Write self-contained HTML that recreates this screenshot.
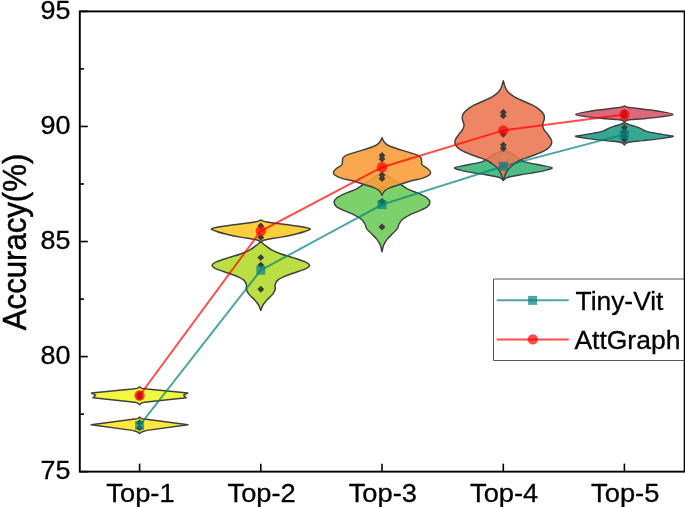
<!DOCTYPE html><html><head><meta charset="utf-8"><title>Accuracy chart</title><style>html,body{margin:0;padding:0;background:#fff}svg{display:block}</style></head><body><svg width="685" height="507" viewBox="0 0 685 507">
<rect width="685" height="507" fill="#fff"/>
<path d="M139.60 417.10L137.70 418.60L134.70 419.00L91.20 424.70L132.30 430.40L137.70 432.00L139.60 433.60L141.50 432.00L146.90 430.40L188.00 424.70L144.50 419.00L141.50 418.60L139.60 417.10Z" fill="#fce93c" fill-opacity="1.00" stroke="#3f3f3f" stroke-width="1.45" stroke-linejoin="round"/>
<path d="M139.60 419.35L143.05 422.80L139.60 426.25L136.15 422.80Z" fill="#3c3c3c" fill-opacity="1"/>
<path d="M139.60 424.45L143.05 427.90L139.60 431.35L136.15 427.90Z" fill="#3c3c3c" fill-opacity="1"/>
<path d="M139.60 386.90L137.20 388.40L132.30 389.00L91.40 393.00L95.60 395.20L93.00 397.80L134.70 402.30L137.40 402.90L139.60 404.80L141.80 402.90L144.50 402.30L186.20 397.80L183.60 395.20L187.80 393.00L146.90 389.00L142.00 388.40L139.60 386.90Z" fill="#f2f83d" fill-opacity="1.00" stroke="#3f3f3f" stroke-width="1.45" stroke-linejoin="round"/>
<path d="M139.60 390.75L143.05 394.20L139.60 397.65L136.15 394.20Z" fill="#3c3c3c" fill-opacity="1"/>
<path d="M139.60 393.55L143.05 397.00L139.60 400.45L136.15 397.00Z" fill="#3c3c3c" fill-opacity="1"/>
<path d="M260.80 241.60C259.98 242.28 257.70 244.32 255.90 245.70C254.10 247.08 252.57 248.52 250.00 249.90C247.43 251.28 244.05 252.72 240.50 254.00C236.95 255.28 232.65 256.32 228.70 257.60C224.75 258.88 219.57 260.40 216.80 261.70C214.03 263.00 212.10 264.15 212.10 265.40C212.10 266.65 214.03 267.88 216.80 269.20C219.57 270.52 225.15 272.02 228.70 273.30C232.25 274.58 235.53 275.72 238.10 276.90C240.67 278.08 242.72 279.12 244.10 280.40C245.48 281.68 246.02 283.12 246.40 284.60C246.78 286.08 246.00 287.72 246.40 289.30C246.80 290.88 247.42 292.32 248.80 294.10C250.18 295.88 253.03 298.13 254.70 300.00C256.37 301.87 257.78 303.53 258.80 305.30C259.82 307.07 260.47 309.72 260.80 310.60C261.13 309.72 261.78 307.07 262.80 305.30C263.82 303.53 265.23 301.87 266.90 300.00C268.57 298.13 271.42 295.88 272.80 294.10C274.18 292.32 274.80 290.88 275.20 289.30C275.60 287.72 274.82 286.08 275.20 284.60C275.58 283.12 276.12 281.68 277.50 280.40C278.88 279.12 280.93 278.08 283.50 276.90C286.07 275.72 289.35 274.58 292.90 273.30C296.45 272.02 302.03 270.52 304.80 269.20C307.57 267.88 309.50 266.65 309.50 265.40C309.50 264.15 307.57 263.00 304.80 261.70C302.03 260.40 296.85 258.88 292.90 257.60C288.95 256.32 284.65 255.28 281.10 254.00C277.55 252.72 274.17 251.28 271.60 249.90C269.03 248.52 267.50 247.08 265.70 245.70C263.90 244.32 261.62 242.28 260.80 241.60Z" fill="#bbdf42" fill-opacity="1.00" stroke="#3f3f3f" stroke-width="1.45" stroke-linejoin="round"/>
<path d="M260.80 254.15L264.25 257.60L260.80 261.05L257.35 257.60Z" fill="#3c3c3c" fill-opacity="1"/>
<path d="M260.80 261.65L264.25 265.10L260.80 268.55L257.35 265.10Z" fill="#3c3c3c" fill-opacity="1"/>
<path d="M260.80 285.85L264.25 289.30L260.80 292.75L257.35 289.30Z" fill="#3c3c3c" fill-opacity="1"/>
<path d="M260.80 220.00C260.48 220.15 259.72 220.62 258.90 220.90C258.08 221.18 257.98 221.32 255.90 221.70C253.82 222.08 250.93 222.57 246.40 223.20C241.87 223.83 234.45 224.60 228.70 225.50C222.95 226.40 213.88 227.60 211.90 228.60C209.92 229.60 214.00 230.48 216.80 231.50C219.60 232.52 224.75 233.77 228.70 234.70C232.65 235.63 236.57 236.38 240.50 237.10C244.43 237.82 249.53 238.52 252.30 239.00C255.07 239.48 255.68 239.55 257.10 240.00C258.52 240.45 260.18 241.42 260.80 241.70C261.42 241.42 263.08 240.45 264.50 240.00C265.92 239.55 266.53 239.48 269.30 239.00C272.07 238.52 277.17 237.82 281.10 237.10C285.03 236.38 288.95 235.63 292.90 234.70C296.85 233.77 302.00 232.52 304.80 231.50C307.60 230.48 311.68 229.60 309.70 228.60C307.72 227.60 298.65 226.40 292.90 225.50C287.15 224.60 279.73 223.83 275.20 223.20C270.67 222.57 267.78 222.08 265.70 221.70C263.62 221.32 263.52 221.18 262.70 220.90C261.88 220.62 261.12 220.15 260.80 220.00Z" fill="#fbc923" fill-opacity="0.89" stroke="#3f3f3f" stroke-width="1.45" stroke-linejoin="round"/>
<path d="M260.80 222.55L264.25 226.00L260.80 229.45L257.35 226.00Z" fill="#3c3c3c" fill-opacity="1"/>
<path d="M260.80 233.95L264.25 237.40L260.80 240.85L257.35 237.40Z" fill="#3c3c3c" fill-opacity="1"/>
<path d="M382.00 173.00C381.63 173.20 380.63 173.77 379.80 174.20C378.97 174.63 378.38 174.80 377.00 175.60C375.62 176.40 373.47 177.75 371.50 179.00C369.53 180.25 367.68 181.45 365.20 183.10C362.72 184.75 360.00 187.13 356.60 188.90C353.20 190.67 348.05 192.22 344.80 193.70C341.55 195.18 338.88 196.42 337.10 197.80C335.32 199.18 334.20 200.53 334.10 202.00C334.00 203.47 334.72 205.12 336.50 206.60C338.28 208.08 341.85 209.53 344.80 210.90C347.75 212.27 351.45 213.40 354.20 214.80C356.95 216.20 359.52 217.77 361.30 219.30C363.08 220.83 364.02 222.45 364.90 224.00C365.78 225.55 365.62 227.08 366.60 228.60C367.58 230.12 369.12 231.35 370.80 233.10C372.48 234.85 375.12 237.12 376.70 239.10C378.28 241.08 379.42 242.88 380.30 245.00C381.18 247.12 381.72 250.67 382.00 251.80C382.28 250.67 382.82 247.12 383.70 245.00C384.58 242.88 385.72 241.08 387.30 239.10C388.88 237.12 391.52 234.85 393.20 233.10C394.88 231.35 396.42 230.12 397.40 228.60C398.38 227.08 398.22 225.55 399.10 224.00C399.98 222.45 400.92 220.83 402.70 219.30C404.48 217.77 407.05 216.20 409.80 214.80C412.55 213.40 416.25 212.27 419.20 210.90C422.15 209.53 425.72 208.08 427.50 206.60C429.28 205.12 430.00 203.47 429.90 202.00C429.80 200.53 428.68 199.18 426.90 197.80C425.12 196.42 422.45 195.18 419.20 193.70C415.95 192.22 410.80 190.67 407.40 188.90C404.00 187.13 401.28 184.75 398.80 183.10C396.32 181.45 394.47 180.25 392.50 179.00C390.53 177.75 388.38 176.40 387.00 175.60C385.62 174.80 385.03 174.63 384.20 174.20C383.37 173.77 382.37 173.20 382.00 173.00Z" fill="#7cd16a" fill-opacity="1.00" stroke="#3f3f3f" stroke-width="1.45" stroke-linejoin="round"/>
<path d="M382.00 184.75L385.45 188.20L382.00 191.65L378.55 188.20Z" fill="#56894f" fill-opacity="1"/>
<path d="M382.00 198.05L385.45 201.50L382.00 204.95L378.55 201.50Z" fill="#3c3c3c" fill-opacity="1"/>
<path d="M382.00 223.55L385.45 227.00L382.00 230.45L378.55 227.00Z" fill="#3c3c3c" fill-opacity="1"/>
<path d="M382.00 137.60C381.72 138.23 381.18 140.20 380.30 141.40C379.42 142.60 378.68 143.65 376.70 144.80C374.72 145.95 371.75 147.12 368.40 148.30C365.05 149.48 360.15 150.80 356.60 151.90C353.05 153.00 349.37 153.92 347.10 154.90C344.83 155.88 343.78 156.72 343.00 157.80C342.22 158.88 342.60 160.22 342.40 161.40C342.20 162.58 342.78 163.72 341.80 164.90C340.82 166.08 337.88 167.32 336.50 168.50C335.12 169.68 333.80 170.92 333.50 172.00C333.20 173.08 333.42 173.98 334.70 175.00C335.98 176.02 337.95 177.07 341.20 178.10C344.45 179.13 350.25 180.08 354.20 181.20C358.15 182.32 361.55 183.70 364.90 184.80C368.25 185.90 371.93 186.85 374.30 187.80C376.67 188.75 377.82 189.27 379.10 190.50C380.38 191.73 381.52 194.42 382.00 195.20C382.48 194.42 383.62 191.73 384.90 190.50C386.18 189.27 387.33 188.75 389.70 187.80C392.07 186.85 395.75 185.90 399.10 184.80C402.45 183.70 405.85 182.32 409.80 181.20C413.75 180.08 419.55 179.13 422.80 178.10C426.05 177.07 428.02 176.02 429.30 175.00C430.58 173.98 430.80 173.08 430.50 172.00C430.20 170.92 428.88 169.68 427.50 168.50C426.12 167.32 423.18 166.08 422.20 164.90C421.22 163.72 421.80 162.58 421.60 161.40C421.40 160.22 421.78 158.88 421.00 157.80C420.22 156.72 419.17 155.88 416.90 154.90C414.63 153.92 410.95 153.00 407.40 151.90C403.85 150.80 398.95 149.48 395.60 148.30C392.25 147.12 389.28 145.95 387.30 144.80C385.32 143.65 384.58 142.60 383.70 141.40C382.82 140.20 382.28 138.23 382.00 137.60Z" fill="#fb9c39" fill-opacity="0.89" stroke="#3f3f3f" stroke-width="1.45" stroke-linejoin="round"/>
<path d="M382.00 151.95L385.45 155.40L382.00 158.85L378.55 155.40Z" fill="#3c3c3c" fill-opacity="1"/>
<path d="M382.00 155.55L385.45 159.00L382.00 162.45L378.55 159.00Z" fill="#3c3c3c" fill-opacity="1"/>
<path d="M382.00 171.55L385.45 175.00L382.00 178.45L378.55 175.00Z" fill="#3c3c3c" fill-opacity="1"/>
<path d="M382.00 175.05L385.45 178.50L382.00 181.95L378.55 178.50Z" fill="#3c3c3c" fill-opacity="1"/>
<path d="M503.30 149.80C502.80 150.08 501.52 150.92 500.30 151.50C499.08 152.08 497.50 152.62 496.00 153.30C494.50 153.98 492.75 154.68 491.30 155.60C489.85 156.52 488.85 157.75 487.30 158.80C485.75 159.85 484.22 161.10 482.00 161.90C479.78 162.70 476.70 163.05 474.00 163.60C471.30 164.15 469.05 164.50 465.80 165.20C462.55 165.90 455.10 166.90 454.50 167.80C453.90 168.70 458.95 169.75 462.20 170.60C465.45 171.45 470.05 172.22 474.00 172.90C477.95 173.58 482.35 174.10 485.90 174.70C489.45 175.30 492.83 175.93 495.30 176.50C497.77 177.07 499.37 177.42 500.70 178.10C502.03 178.78 502.87 180.18 503.30 180.60C503.73 180.18 504.57 178.78 505.90 178.10C507.23 177.42 508.83 177.07 511.30 176.50C513.77 175.93 517.15 175.30 520.70 174.70C524.25 174.10 528.65 173.58 532.60 172.90C536.55 172.22 541.15 171.45 544.40 170.60C547.65 169.75 552.70 168.70 552.10 167.80C551.50 166.90 544.05 165.90 540.80 165.20C537.55 164.50 535.30 164.15 532.60 163.60C529.90 163.05 526.82 162.70 524.60 161.90C522.38 161.10 520.85 159.85 519.30 158.80C517.75 157.75 516.75 156.52 515.30 155.60C513.85 154.68 512.10 153.98 510.60 153.30C509.10 152.62 507.52 152.08 506.30 151.50C505.08 150.92 503.80 150.08 503.30 149.80Z" fill="#4cbd87" fill-opacity="1.00" stroke="#3f3f3f" stroke-width="1.45" stroke-linejoin="round"/>
<path d="M503.30 154.05L506.75 157.50L503.30 160.95L499.85 157.50Z" fill="#aacbaa" fill-opacity="1"/>
<path d="M503.30 80.80C503.03 81.72 502.47 84.47 501.70 86.30C500.93 88.13 500.15 90.13 498.70 91.80C497.25 93.47 495.53 94.77 493.00 96.30C490.47 97.83 486.67 99.52 483.50 101.00C480.33 102.48 476.77 103.72 474.00 105.20C471.23 106.68 468.77 108.33 466.90 109.90C465.03 111.47 463.55 113.02 462.80 114.60C462.05 116.18 462.20 117.72 462.40 119.40C462.60 121.08 463.93 123.03 464.00 124.70C464.07 126.37 463.68 127.75 462.80 129.40C461.92 131.05 459.98 132.77 458.70 134.60C457.42 136.43 455.60 138.65 455.10 140.40C454.60 142.15 454.92 143.62 455.70 145.10C456.48 146.58 457.73 147.92 459.80 149.30C461.87 150.68 465.13 152.12 468.10 153.40C471.07 154.68 474.43 155.82 477.60 157.00C480.77 158.18 484.33 159.13 487.10 160.50C489.87 161.87 492.23 163.62 494.20 165.20C496.17 166.78 497.63 168.25 498.90 170.00C500.17 171.75 501.07 173.97 501.80 175.70C502.53 177.43 503.05 179.62 503.30 180.40C503.55 179.62 504.07 177.43 504.80 175.70C505.53 173.97 506.43 171.75 507.70 170.00C508.97 168.25 510.43 166.78 512.40 165.20C514.37 163.62 516.73 161.87 519.50 160.50C522.27 159.13 525.83 158.18 529.00 157.00C532.17 155.82 535.53 154.68 538.50 153.40C541.47 152.12 544.73 150.68 546.80 149.30C548.87 147.92 550.12 146.58 550.90 145.10C551.68 143.62 552.00 142.15 551.50 140.40C551.00 138.65 549.18 136.43 547.90 134.60C546.62 132.77 544.68 131.05 543.80 129.40C542.92 127.75 542.53 126.37 542.60 124.70C542.67 123.03 544.00 121.08 544.20 119.40C544.40 117.72 544.55 116.18 543.80 114.60C543.05 113.02 541.57 111.47 539.70 109.90C537.83 108.33 535.37 106.68 532.60 105.20C529.83 103.72 526.27 102.48 523.10 101.00C519.93 99.52 516.13 97.83 513.60 96.30C511.07 94.77 509.35 93.47 507.90 91.80C506.45 90.13 505.67 88.13 504.90 86.30C504.13 84.47 503.57 81.72 503.30 80.80Z" fill="#ec7752" fill-opacity="0.89" stroke="#3f3f3f" stroke-width="1.45" stroke-linejoin="round"/>
<path d="M503.30 108.75L506.75 112.20L503.30 115.65L499.85 112.20Z" fill="#3c3c3c" fill-opacity="1"/>
<path d="M503.30 112.25L506.75 115.70L503.30 119.15L499.85 115.70Z" fill="#3c3c3c" fill-opacity="1"/>
<path d="M503.30 130.75L506.75 134.20L503.30 137.65L499.85 134.20Z" fill="#3c3c3c" fill-opacity="1"/>
<path d="M503.30 141.55L506.75 145.00L503.30 148.45L499.85 145.00Z" fill="#3c3c3c" fill-opacity="1"/>
<path d="M503.30 145.05L506.75 148.50L503.30 151.95L499.85 148.50Z" fill="#3c3c3c" fill-opacity="1"/>
<path d="M624.40 122.70C623.62 123.02 621.47 123.98 619.70 124.60C617.93 125.22 615.77 125.72 613.80 126.40C611.83 127.08 609.68 127.92 607.90 128.70C606.12 129.48 605.47 130.37 603.10 131.10C600.73 131.83 597.25 132.42 593.70 133.10C590.15 133.78 584.80 134.65 581.80 135.20C578.80 135.75 574.70 135.83 575.70 136.40C576.70 136.97 582.83 137.90 587.80 138.60C592.77 139.30 600.58 140.08 605.50 140.60C610.42 141.12 614.53 141.32 617.30 141.70C620.07 142.08 620.92 142.33 622.10 142.90C623.28 143.47 624.02 144.73 624.40 145.10C624.78 144.73 625.52 143.47 626.70 142.90C627.88 142.33 628.73 142.08 631.50 141.70C634.27 141.32 638.38 141.12 643.30 140.60C648.22 140.08 656.03 139.30 661.00 138.60C665.97 137.90 672.10 136.97 673.10 136.40C674.10 135.83 670.00 135.75 667.00 135.20C664.00 134.65 658.65 133.78 655.10 133.10C651.55 132.42 648.07 131.83 645.70 131.10C643.33 130.37 642.68 129.48 640.90 128.70C639.12 127.92 636.97 127.08 635.00 126.40C633.03 125.72 630.87 125.22 629.10 124.60C627.33 123.98 625.18 123.02 624.40 122.70Z" fill="#37a692" fill-opacity="1.00" stroke="#3f3f3f" stroke-width="1.45" stroke-linejoin="round"/>
<path d="M624.40 124.05L627.85 127.50L624.40 130.95L620.95 127.50Z" fill="#3c3c3c" fill-opacity="1"/>
<path d="M624.40 128.55L627.85 132.00L624.40 135.45L620.95 132.00Z" fill="#3c3c3c" fill-opacity="1"/>
<path d="M624.40 133.05L627.85 136.50L624.40 139.95L620.95 136.50Z" fill="#3c3c3c" fill-opacity="1"/>
<path d="M624.40 136.25L627.85 139.70L624.40 143.15L620.95 139.70Z" fill="#3c3c3c" fill-opacity="1"/>
<path d="M624.40 105.80C624.10 105.98 623.38 106.63 622.60 106.90C621.82 107.17 622.55 107.02 619.70 107.40C616.85 107.78 610.82 108.50 605.50 109.20C600.18 109.90 592.77 110.72 587.80 111.60C582.83 112.48 575.70 113.62 575.70 114.50C575.70 115.38 582.83 116.20 587.80 116.90C592.77 117.60 600.58 118.25 605.50 118.70C610.42 119.15 614.53 119.35 617.30 119.60C620.07 119.85 620.92 119.83 622.10 120.20C623.28 120.57 624.02 121.53 624.40 121.80C624.78 121.53 625.52 120.57 626.70 120.20C627.88 119.83 628.73 119.85 631.50 119.60C634.27 119.35 638.38 119.15 643.30 118.70C648.22 118.25 656.03 117.60 661.00 116.90C665.97 116.20 673.10 115.38 673.10 114.50C673.10 113.62 665.97 112.48 661.00 111.60C656.03 110.72 648.62 109.90 643.30 109.20C637.98 108.50 631.95 107.78 629.10 107.40C626.25 107.02 626.98 107.17 626.20 106.90C625.42 106.63 624.70 105.98 624.40 105.80Z" fill="#d7556b" fill-opacity="0.89" stroke="#4a3a40" stroke-width="1.45" stroke-linejoin="round"/>
<path d="M624.40 109.55L627.85 113.00L624.40 116.45L620.95 113.00Z" fill="#3c3c3c" fill-opacity="1"/>
<path d="M624.40 112.55L627.85 116.00L624.40 119.45L620.95 116.00Z" fill="#3c3c3c" fill-opacity="1"/>
<polyline points="139.6,425.4 260.8,270.2 382.0,204.6 503.3,166.3 624.4,134.4" fill="none" stroke="#008080" stroke-opacity="0.7" stroke-width="2"/>
<rect x="135.1" y="420.9" width="9" height="9" fill="#008080" fill-opacity="0.7"/>
<rect x="256.3" y="265.7" width="9" height="9" fill="#008080" fill-opacity="0.7"/>
<rect x="377.5" y="200.1" width="9" height="9" fill="#008080" fill-opacity="0.7"/>
<rect x="498.8" y="161.8" width="9" height="9" fill="#008080" fill-opacity="0.7"/>
<rect x="619.9" y="129.9" width="9" height="9" fill="#008080" fill-opacity="0.7"/>
<polyline points="139.6,395.5 260.8,231.0 382.0,167.2 503.3,130.4 624.4,114.5" fill="none" stroke="#ff0000" stroke-opacity="0.7" stroke-width="2"/>
<circle cx="139.6" cy="395.5" r="5.2" fill="#ff0000" fill-opacity="0.7"/>
<circle cx="260.8" cy="231.0" r="5.2" fill="#ff0000" fill-opacity="0.7"/>
<circle cx="382.0" cy="167.2" r="5.2" fill="#ff0000" fill-opacity="0.7"/>
<circle cx="503.3" cy="130.4" r="5.2" fill="#ff0000" fill-opacity="0.7"/>
<circle cx="624.4" cy="114.5" r="5.2" fill="#ff0000" fill-opacity="0.7"/>
<g stroke="#000" stroke-width="1.9" fill="none">
<rect x="79.80" y="11.40" width="605.00" height="460.25"/>
</g><g stroke="#000" stroke-width="1.6">
<line x1="79.80" y1="11.40" x2="87.80" y2="11.40"/>
<line x1="79.80" y1="126.46" x2="87.80" y2="126.46"/>
<line x1="79.80" y1="241.53" x2="87.80" y2="241.53"/>
<line x1="79.80" y1="356.59" x2="87.80" y2="356.59"/>
<line x1="79.80" y1="471.65" x2="87.80" y2="471.65"/>
<line x1="79.80" y1="68.93" x2="84.00" y2="68.93"/>
<line x1="79.80" y1="183.99" x2="84.00" y2="183.99"/>
<line x1="79.80" y1="299.06" x2="84.00" y2="299.06"/>
<line x1="79.80" y1="414.12" x2="84.00" y2="414.12"/>
<line x1="139.60" y1="471.65" x2="139.60" y2="463.65"/>
<line x1="260.80" y1="471.65" x2="260.80" y2="463.65"/>
<line x1="382.00" y1="471.65" x2="382.00" y2="463.65"/>
<line x1="503.30" y1="471.65" x2="503.30" y2="463.65"/>
<line x1="624.40" y1="471.65" x2="624.40" y2="463.65"/>
</g>
<g font-family="'Liberation Sans', sans-serif" fill="#000" stroke="#000" stroke-width="0.3" stroke-linejoin="round">
<text x="40.6" y="19.10" font-size="26" textLength="30" lengthAdjust="spacingAndGlyphs">95</text>
<text x="40.6" y="134.16" font-size="26" textLength="30" lengthAdjust="spacingAndGlyphs">90</text>
<text x="40.6" y="249.22" font-size="26" textLength="30" lengthAdjust="spacingAndGlyphs">85</text>
<text x="40.6" y="364.29" font-size="26" textLength="30" lengthAdjust="spacingAndGlyphs">80</text>
<text x="40.6" y="479.35" font-size="26" textLength="30" lengthAdjust="spacingAndGlyphs">75</text>
<text x="106.30" y="501.5" font-size="25.3" textLength="68.3" lengthAdjust="spacingAndGlyphs">Top-1</text>
<text x="227.50" y="501.5" font-size="25.3" textLength="68.3" lengthAdjust="spacingAndGlyphs">Top-2</text>
<text x="348.70" y="501.5" font-size="25.3" textLength="68.3" lengthAdjust="spacingAndGlyphs">Top-3</text>
<text x="470.00" y="501.5" font-size="25.3" textLength="68.3" lengthAdjust="spacingAndGlyphs">Top-4</text>
<text x="591.10" y="501.5" font-size="25.3" textLength="68.3" lengthAdjust="spacingAndGlyphs">Top-5</text>
<text transform="translate(25.7 330.2) rotate(-90)" stroke-width="0.5" font-size="34" textLength="176.5" lengthAdjust="spacingAndGlyphs">Accuracy(%)</text>
<rect x="493.5" y="279.0" width="191" height="81.5" fill="#fff" stroke="#555" stroke-width="1"/>
<line x1="496.7" y1="300.3" x2="568.8" y2="300.3" stroke="#008080" stroke-opacity="0.7" stroke-width="2"/>
<rect x="528.1" y="295.9" width="9" height="9" stroke="none" fill="#008080" fill-opacity="0.7"/>
<line x1="496.7" y1="339.4" x2="568.8" y2="339.4" stroke="#ff0000" stroke-opacity="0.7" stroke-width="2"/>
<circle cx="532.8" cy="339.4" r="5.2" stroke="none" fill="#ff0000" fill-opacity="0.7"/>
<text x="575.6" y="309.7" font-size="25" textLength="87.8" lengthAdjust="spacingAndGlyphs">Tiny-Vit</text>
<text x="574.4" y="348.6" font-size="25" textLength="106" lengthAdjust="spacingAndGlyphs">AttGraph</text>
</g>
<line x1="684.80" y1="11.40" x2="684.80" y2="471.65" stroke="#000" stroke-width="2"/>
</svg></body></html>
